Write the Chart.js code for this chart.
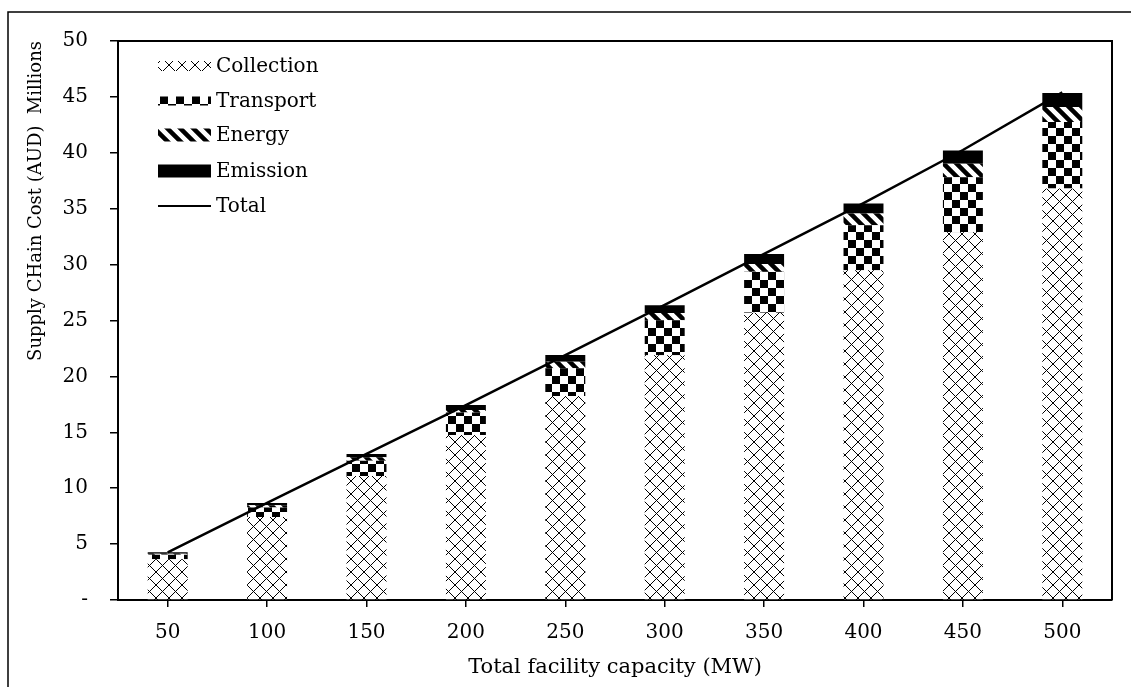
<!DOCTYPE html>
<html>
<head>
<meta charset="utf-8">
<title>Supply chain cost by facility capacity</title>
<script src="https://cdn.jsdelivr.net/npm/chart.js@4.4.1/dist/chart.umd.min.js"></script>
<style>
  html, body { margin: 0; padding: 0; background: #fff; }
  #wrap { width: 1131px; height: 687px; position: relative; }
</style>
</head>
<body>
<div id="wrap"><canvas id="chart"></canvas></div>
<script>
// Total facility capacity (MW)
const capacities = ['50', '100', '150', '200', '250', '300', '350', '400', '450', '500'];

// Cost components, AUD millions
const collection = [3.64, 7.42, 11.09, 14.76, 18.25, 21.9, 25.7, 29.5, 32.9, 36.8];
const transport  = [0.40, 0.85, 1.37, 2.00, 2.48, 3.13, 3.67, 4.02, 4.92, 5.96];
const energy     = [0.10, 0.20, 0.30, 0.24, 0.59, 0.65, 0.69, 1.05, 1.20, 1.34];
const emission   = [0.12, 0.20, 0.30, 0.45, 0.60, 0.69, 0.89, 0.89, 1.19, 1.25];
const total      = [4.27, 8.68, 13.06, 17.44, 21.9, 26.4, 30.95, 35.5, 40.25, 45.4];

// Y axis ticks
const yTicks = [0, 5, 10, 15, 20, 25, 30, 35, 40, 45, 50];

const FONT = 'DejaVu Serif';

// ---- fill patterns ----
function makePattern(w, h, draw) {
  const c = document.createElement('canvas');
  c.width = w; c.height = h;
  const g = c.getContext('2d');
  g.fillStyle = '#fff';
  g.fillRect(0, 0, w, h);
  draw(g, w, h);
  return document.getElementById('chart').getContext('2d').createPattern(c, 'repeat');
}

// diagonal cross lattice
const crossPattern = makePattern(13, 13, (g, w, h) => {
  g.strokeStyle = '#000';
  g.lineWidth = 1;
  g.beginPath();
  g.moveTo(0, 0); g.lineTo(w, h);
  g.moveTo(w, 0); g.lineTo(0, h);
  g.stroke();
});

// large checkerboard
const checkerPattern = makePattern(16, 16, (g) => {
  g.fillStyle = '#000';
  g.fillRect(0, 0, 8, 8);
  g.fillRect(8, 8, 8, 8);
});

// wide downward diagonal stripes
const stripePattern = makePattern(13, 13, (g, w, h) => {
  g.strokeStyle = '#000';
  g.lineWidth = 4.5;
  g.beginPath();
  g.moveTo(-w, 0); g.lineTo(w * 2, h * 3);
  g.moveTo(0, -h); g.lineTo(w * 3, h * 2);
  g.moveTo(-w, -h); g.lineTo(w * 2, h * 2);
  g.moveTo(-2 * w, -h); g.lineTo(w, h * 2);
  g.stroke();
});

// ---- legend drawn inside the plot area ----
const legendRows = [
  { text: 'Collection', y: 66,  fill: crossPattern,   h: 10 },
  { text: 'Transport',  y: 101, fill: checkerPattern, h: 9 },
  { text: 'Energy',     y: 135, fill: stripePattern,  h: 13 },
  { text: 'Emission',   y: 171, fill: '#000',         h: 13 },
  { text: 'Total',      y: 206, line: true }
];

const framePlugin = {
  id: 'frameAndLegend',
  afterDraw(chart) {
    const ctx = chart.ctx;
    const a = chart.chartArea;
    ctx.save();
    // outer frame
    ctx.strokeStyle = '#000';
    ctx.lineWidth = 1.5;
    ctx.beginPath();
    ctx.moveTo(8, 687); ctx.lineTo(8, 12); ctx.lineTo(1131, 12);
    ctx.stroke();
    // plot area box (top and right)
    ctx.lineWidth = 2;
    ctx.beginPath();
    ctx.moveTo(a.left, a.top); ctx.lineTo(a.right, a.top); ctx.lineTo(a.right, a.bottom);
    ctx.stroke();

    // legend
    const x0 = 158, x1 = 211;
    ctx.font = '20px "' + FONT + '"';
    ctx.textBaseline = 'middle';
    ctx.textAlign = 'left';
    ctx.fillStyle = '#000';
    legendRows.forEach(r => {
      if (r.line) {
        ctx.strokeStyle = '#000';
        ctx.lineWidth = 2;
        ctx.beginPath();
        ctx.moveTo(x0, r.y); ctx.lineTo(x1, r.y);
        ctx.stroke();
      } else {
        ctx.fillStyle = r.fill;
        ctx.fillRect(x0, r.y - r.h / 2, x1 - x0, r.h);
      }
      ctx.fillStyle = '#000';
      ctx.fillText(r.text, 216, r.y + 1);
    });
    ctx.restore();
  }
};

Chart.defaults.font.family = FONT;
Chart.defaults.font.size = 20;
Chart.defaults.color = '#000';

const barCommon = { type: 'bar', borderWidth: 0, barPercentage: 0.402, categoryPercentage: 1, stack: 'cost', order: 1 };

new Chart(document.getElementById('chart'), {
  data: {
    labels: capacities,
    datasets: [
      Object.assign({ label: 'Collection', data: collection, backgroundColor: crossPattern }, barCommon),
      Object.assign({ label: 'Transport',  data: transport,  backgroundColor: checkerPattern }, barCommon),
      Object.assign({ label: 'Energy',     data: energy,     backgroundColor: stripePattern }, barCommon),
      Object.assign({ label: 'Emission',   data: emission,   backgroundColor: '#000' }, barCommon),
      {
        type: 'line', label: 'Total', data: total, stack: 'total', order: 0,
        borderColor: '#000', borderWidth: 2.5, pointRadius: 0, tension: 0, fill: false
      }
    ]
  },
  options: {
    responsive: true,
    maintainAspectRatio: false,
    animation: false,
    layout: { padding: { left: 20, right: 19, top: 41, bottom: 3 } },
    plugins: { legend: { display: false }, tooltip: { enabled: false } },
    scales: {
      x: {
        stacked: true,
        offset: true,
        border: { color: '#000', width: 2 },
        grid: { offset: false, drawOnChartArea: false, color: '#000', tickLength: 7, lineWidth: 1.5 },
        ticks: { padding: 14, font: { size: 20 } },
        title: { display: true, text: 'Total facility capacity (MW)', font: { size: 21 }, padding: { top: 4, bottom: 4 } },
        afterFit(scale) { scale.height = 84; }
      },
      y: {
        stacked: true,
        min: 0, max: 50,
        afterBuildTicks(scale) { scale.ticks = yTicks.map(v => ({ value: v })); },
        border: { color: '#000', width: 2 },
        grid: { drawOnChartArea: false, color: '#000', tickLength: 8, lineWidth: 1.5 },
        ticks: { padding: 22, font: { size: 20 }, callback: v => (v === 0 ? '-' : v) },
        title: { display: true, text: 'Supply CHain Cost (AUD)  Millions', align: 'end', font: { size: 18 }, padding: { top: 6, bottom: 6 } },
        afterFit(scale) { scale.width = 98; }
      }
    }
  },
  plugins: [framePlugin]
});
</script>
</body>
</html>
